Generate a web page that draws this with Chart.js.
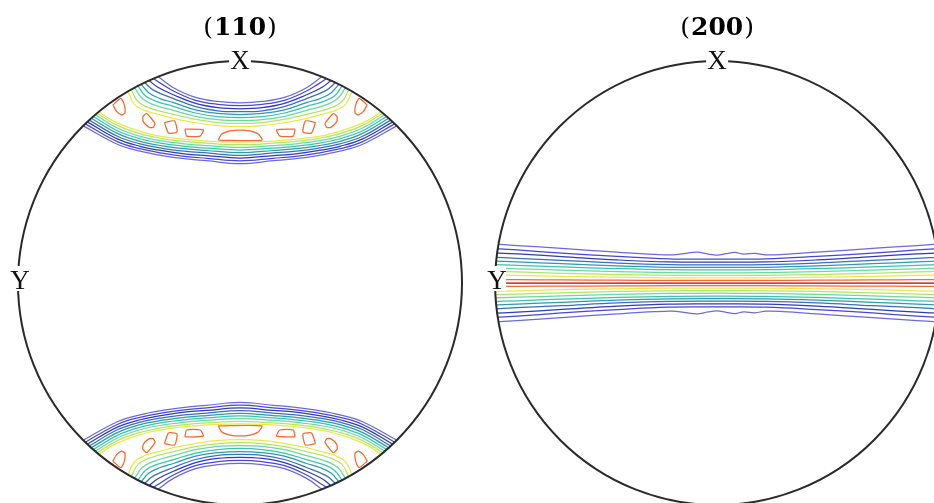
<!DOCTYPE html>
<html>
<head>
<meta charset="utf-8">
<script src="https://cdn.jsdelivr.net/npm/chart.js@4.4.0/dist/chart.umd.min.js"></script>
<style>
  html, body { margin: 0; padding: 0; background: #fff; }
  #wrap { width: 934px; height: 503px; }
</style>
</head>
<body>
<div id="wrap"><canvas id="pf"></canvas></div>
<script>
// Pole figure titles (Miller indices) and specimen axis labels
const figureTitles = ['110', '200'];
const axisLabels = ['X', 'Y'];

// Contour colours, level 1 (lowest) to level 11 (highest)
const levelColors = ['#6a6ad8', '#4848cf', '#2e3db0', '#3a70b5', '#2a9cab', '#38c4ae',
                     '#6ad99c', '#aee66c', '#e9e945', '#f4692f', '#960a0a'];

// (110): contours of the cap around +X, projection units (rim radius = 100).
// Each half runs from the rim to the vertical mid-line; the other half is its mirror.
// Lines on the X side of the ridge, levels 1..9
const pf110Inner = [
  [[-37, 93.0], [-30, 88.0], [-20, 83.6], [-10, 81.8], [0, 81.2]],
  [[-39, 92.1], [-35, 89.5], [-30, 86.5], [-20, 82.3], [-10, 80.5], [0, 79.9]],
  [[-41, 91.2], [-37, 88.2], [-30, 84.8], [-20, 80.9], [-10, 79.0], [0, 78.5]],
  [[-43, 90.3], [-39, 86.9], [-30, 83.1], [-20, 79.5], [-10, 77.6], [0, 77.2]],
  [[-44.5, 89.5], [-41, 85.6], [-36, 83.1], [-30, 81.3], [-20, 78.0], [-10, 76.4], [0, 75.9]],
  [[-46, 88.8], [-42.5, 84.3], [-37, 81.6], [-30, 79.6], [-20, 76.6], [-10, 75.0], [0, 74.5]],
  [[-47.5, 88.0], [-44, 83.1], [-38, 80.0], [-30, 77.8], [-20, 75.1], [-10, 73.6], [0, 73.2]],
  [[-49, 87.2], [-46, 81.8], [-40, 78.6], [-30, 76.0], [-20, 73.7], [-10, 72.3], [0, 71.9]],
  [[-50.5, 86.3], [-47.5, 80.5], [-43, 77.8], [-35, 75.5], [-30, 74.2], [-20, 72.2], [-10, 70.9], [0, 70.5]]
];
// Lines on the centre side of the ridge, levels 1..9
const pf110Outer = [
  [[-70.6, 70.8], [-55, 62.4], [-45, 59.4], [-35, 57.4], [-25, 56.0], [-15, 55.1], [0, 53.8]],
  [[-69.7, 71.7], [-55, 63.6], [-45, 60.5], [-35, 58.5], [-25, 57.1], [-15, 56.2], [0, 55.0]],
  [[-68.8, 72.6], [-55, 64.8], [-45, 61.6], [-35, 59.6], [-25, 58.2], [-15, 57.4], [0, 56.3]],
  [[-67.9, 73.4], [-55, 66.0], [-45, 62.7], [-35, 60.7], [-25, 59.4], [-15, 58.6], [0, 57.5]],
  [[-67.0, 74.2], [-55, 67.3], [-45, 63.8], [-35, 61.8], [-25, 60.5], [-15, 59.7], [0, 58.7]],
  [[-66.1, 75.0], [-55, 68.5], [-45, 65.0], [-35, 62.9], [-25, 61.6], [-15, 60.8], [0, 59.9]],
  [[-65.2, 75.8], [-55, 69.7], [-45, 66.1], [-35, 64.0], [-25, 62.7], [-15, 61.9], [0, 61.1]],
  [[-64.4, 76.5], [-55, 70.9], [-45, 67.3], [-35, 65.1], [-25, 63.8], [-15, 63.0], [0, 62.3]],
  [[-63.5, 77.3], [-58, 73.5], [-50, 70.0], [-40, 67.0], [-30, 65.3], [-20, 64.3], [-10, 63.7], [0, 63.5]]
];
// Closed level-10 contours along the ridge (left half) and the one on the mid-line
const pf110Peaks = [
  [[-57.3, 80.2], [-53.7, 83.2], [-52.3, 80.9], [-51.8, 76.7], [-53.3, 75.7], [-55.5, 77.2]],
  [[-43.8, 74.9], [-42.1, 76.4], [-38.3, 71.9], [-39.1, 70.1], [-40.9, 70.1], [-43.6, 72.7]],
  [[-34.0, 72.3], [-29.5, 73.0], [-28.4, 68.0], [-32.2, 67.6]],
  [[-24.8, 69.3], [-16.5, 69.0], [-18.0, 66.2], [-24.0, 66.2]]
];
const pf110MidPeak = [[-9.8, 64.4], [-8.2, 67.1], [-4.5, 68.5], [0, 68.9], [4.5, 68.5], [8.2, 67.1], [9.8, 64.4]];

// (200): band along the Y great circle; distance of each contour above the band axis
const pf200X = [-102, -90, -70, -45, -22, 0, 22, 45, 70, 90, 102];
const pf200Levels = [
  null, // level 1 is listed separately below (wavy)
  [15.6, 14.9, 13.5, 12.0, 10.9, 10.8, 10.9, 12.0, 13.5, 14.9, 15.6],
  [13.7, 13.1, 11.9, 10.4, 9.5, 9.4, 9.5, 10.4, 11.9, 13.1, 13.7],
  [11.7, 11.1, 10.2, 9.0, 8.3, 8.2, 8.3, 9.0, 10.2, 11.1, 11.7],
  [10.0, 9.5, 8.7, 7.7, 7.1, 7.0, 7.1, 7.7, 8.7, 9.5, 10.0],
  [8.4, 8.0, 7.3, 6.5, 6.0, 5.9, 6.0, 6.5, 7.3, 8.0, 8.4],
  [6.8, 6.4, 5.8, 5.1, 4.7, 4.6, 4.7, 5.1, 5.8, 6.4, 6.8],
  [5.3, 5.0, 4.4, 3.8, 3.5, 3.4, 3.5, 3.8, 4.4, 5.0, 5.3],
  [3.7, 3.5, 3.0, 2.6, 2.35, 2.3, 2.35, 2.6, 3.0, 3.5, 3.7],
  [1.6, 1.5, 1.4, 1.3, 1.2, 1.2, 1.2, 1.3, 1.4, 1.5, 1.6],
  [0, 0, 0, 0, 0, 0, 0, 0, 0, 0, 0]
];
const pf200OuterX = [-102, -90, -70, -45, -28, -20, -15, -9, -4, 0, 4, 8, 12, 17, 22, 30, 45, 70, 90, 102];
const pf200OuterY = [17.6, 16.9, 15.6, 13.9, 12.9, 12.7, 13.2, 13.9, 13.0, 12.6, 13.2, 13.8, 13.0, 13.4, 12.7, 12.9, 13.9, 15.6, 16.9, 17.6];

// Layout: disc centres on the shared x axis, rim radius 100
const discCentres = [0, 214.9];
const RIM = 100;

function toPoints(list, cx, sy) {
  return list.map(([x, y]) => ({ x: cx + x, y: sy * y }));
}
function mirrorHalf(half) {
  const rest = half.slice(0, -1).reverse().map(([x, y]) => [-x, y]);
  return half.concat(rest);
}
function flipX(poly) { return poly.map(([x, y]) => [-x, y]); }
function closeRing(poly) { return poly.concat([poly[0]]); }
function contour(data, color, disc, tension) {
  return { data, borderColor: color, borderWidth: 1.25, pointRadius: 0, pointHitRadius: 0,
           tension, fill: false, disc };
}

const datasets = [];
// (110) caps around +X and -X
[1, -1].forEach(sy => {
  pf110Inner.forEach((half, i) =>
    datasets.push(contour(toPoints(mirrorHalf(half), discCentres[0], sy), levelColors[i], 0, 0.4)));
  pf110Outer.forEach((half, i) =>
    datasets.push(contour(toPoints(mirrorHalf(half), discCentres[0], sy), levelColors[i], 0, 0.4)));
  pf110Peaks.forEach(poly => {
    datasets.push(contour(toPoints(closeRing(poly), discCentres[0], sy), levelColors[9], 0, 0.2));
    datasets.push(contour(toPoints(closeRing(flipX(poly)), discCentres[0], sy), levelColors[9], 0, 0.2));
  });
  datasets.push(contour(toPoints(closeRing(pf110MidPeak), discCentres[0], sy), levelColors[9], 0, 0.25));
});
// (200) band, both sides of the axis
[1, -1].forEach(sy => {
  const outer = pf200OuterX.map((x, j) => [x, pf200OuterY[j]]);
  datasets.push(contour(toPoints(outer, discCentres[1], sy), levelColors[0], 1, 0.4));
  pf200Levels.forEach((ys, i) => {
    if (!ys || (i === 10 && sy < 0)) return;
    const line = pf200X.map((x, j) => [x, ys[j]]);
    datasets.push(contour(toPoints(line, discCentres[1], sy), levelColors[i], 1, 0.4));
  });
});

function discGeometry(chart, k) {
  const { x, y } = chart.scales;
  const cx = x.getPixelForValue(discCentres[k]);
  const cy = y.getPixelForValue(0);
  const r = x.getPixelForValue(discCentres[k] + RIM) - cx;
  return { cx, cy, r };
}

// Clip contours to their disc, then draw rims, axis labels and titles
const poleFigurePlugin = {
  id: 'poleFigure',
  beforeDatasetDraw(chart, args) {
    const ds = chart.data.datasets[args.index];
    const { cx, cy, r } = discGeometry(chart, ds.disc);
    const ctx = chart.ctx;
    ctx.save();
    ctx.beginPath();
    ctx.arc(cx, cy, r, 0, Math.PI * 2);
    ctx.clip();
  },
  afterDatasetDraw(chart) {
    chart.ctx.restore();
  },
  afterDatasetsDraw(chart) {
    const ctx = chart.ctx;
    discCentres.forEach((_, k) => {
      const { cx, cy, r } = discGeometry(chart, k);
      ctx.save();
      ctx.beginPath();
      ctx.arc(cx, cy, r, 0, Math.PI * 2);
      ctx.lineWidth = 2;
      ctx.strokeStyle = '#2a2a2a';
      ctx.stroke();

      // axis labels on the rim
      const top = cy - r, left = cx - r;
      ctx.fillStyle = '#fff';
      ctx.fillRect(cx - 11, top - 11, 22, 21);
      ctx.fillRect(left - 11, cy - 17, 22, 25);
      ctx.fillStyle = '#111';
      ctx.font = '27px "Liberation Serif"';
      ctx.textAlign = 'center';
      ctx.textBaseline = 'alphabetic';
      ctx.fillText(axisLabels[0], cx, top + 7.5);
      ctx.fillText(axisLabels[1], left + 2, cy + 6.3);

      // title: upright parentheses, bold indices
      const reg = '25px "DejaVu Serif"', bold = 'bold 24px "DejaVu Serif"';
      ctx.font = reg;
      const wo = ctx.measureText('(').width, wc = ctx.measureText(')').width;
      ctx.font = bold;
      const wt = ctx.measureText(figureTitles[k]).width * 1.04 + 2;
      let tx = cx - (wo + wt + wc) / 2;
      const base = top - 26;
      ctx.textAlign = 'left';
      ctx.fillStyle = '#000';
      ctx.font = reg; ctx.fillText('(', tx, base); tx += wo + 1;
      ctx.font = bold;
      ctx.save();
      ctx.translate(tx, base);
      ctx.scale(1.04, 1);
      ctx.fillText(figureTitles[k], 0, 0);
      ctx.restore();
      tx += wt - 1;
      ctx.font = reg; ctx.fillText(')', tx, base);
      ctx.restore();
    });
  }
};

new Chart(document.getElementById('pf'), {
  type: 'line',
  data: { datasets },
  options: {
    responsive: true,
    maintainAspectRatio: false,
    animation: false,
    events: [],
    layout: { padding: 0 },
    plugins: { legend: { display: false }, tooltip: { enabled: false }, title: { display: false } },
    scales: {
      x: { type: 'linear', min: -108.1, max: 312.6, display: false },
      y: { type: 'linear', min: -99.1, max: 127.5, display: false }
    }
  },
  plugins: [poleFigurePlugin]
});
</script>
</body>
</html>
